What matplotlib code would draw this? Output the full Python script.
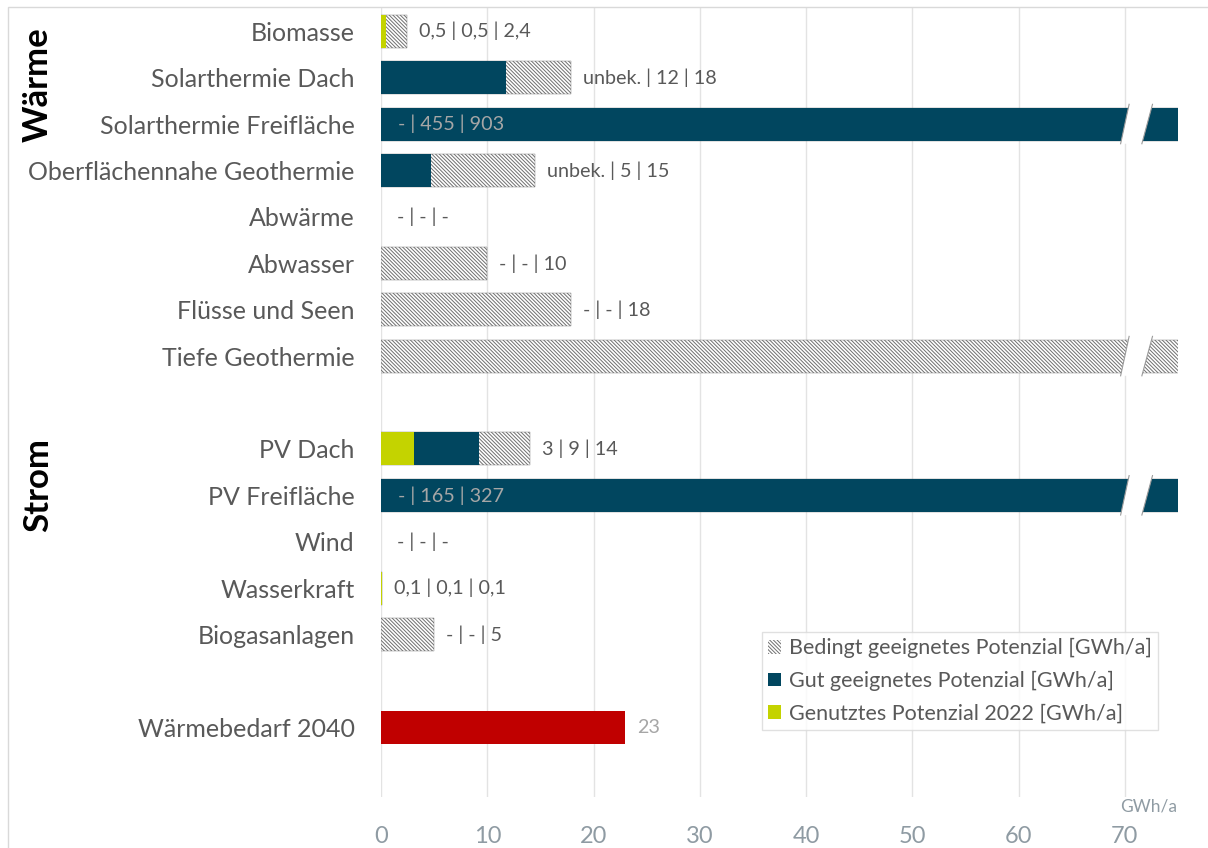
import numpy as np
import matplotlib
matplotlib.use("Agg")
import matplotlib.pyplot as plt
from matplotlib.patches import Patch, Polygon, Rectangle

plt.rcParams['font.family'] = ['Lato', 'DejaVu Sans']
plt.rcParams['hatch.linewidth'] = 0.7

# ---------------- data ----------------
waerme_cats = ["Biomasse", "Solarthermie Dach", "Solarthermie Freifläche",
               "Oberflächennahe Geothermie", "Abwärme", "Abwasser",
               "Flüsse und Seen", "Tiefe Geothermie"]
strom_cats = ["PV Dach", "PV Freifläche", "Wind", "Wasserkraft", "Biogasanlagen"]
demand_cat = "Wärmebedarf 2040"

# Waerme
w_genutzt = [0.5, np.nan, np.nan, np.nan, np.nan, np.nan, np.nan, np.nan]
w_gut = [0.5, 11.8, 455, 4.7, np.nan, np.nan, np.nan, np.nan]
w_bedingt = [2.4, 17.9, 903, 14.5, np.nan, 10, 17.9, 1000]
w_labels = ["0,5 | 0,5 | 2,4", "unbek. | 12 | 18", "- | 455 | 903",
            "unbek. | 5 | 15", "- | - | -", "- | - | 10", "- | - | 18", ""]

# Strom
s_genutzt = [3.1, np.nan, np.nan, 0.1, np.nan]
s_gut = [9.2, 165, np.nan, 0.1, np.nan]
s_bedingt = [14.0, 327, np.nan, 0.1, 5.0]
s_labels = ["3 | 9 | 14", "- | 165 | 327", "- | - | -", "0,1 | 0,1 | 0,1", "- | - | 5"]

demand_value = 23
demand_label = "23"

xticks = [0, 10, 20, 30, 40, 50, 60, 70]
x_max = 75
unit = "GWh/a"
legend_labels = ["Bedingt geeignetes Potenzial [GWh/a]",
                 "Gut geeignetes Potenzial [GWh/a]",
                 "Genutztes Potenzial 2022 [GWh/a]"]

# ---------------- style ----------------
NAVY = "#01465F"
YELLOW = "#C4D300"
RED = "#C00000"
HATCH_C = "#6F6F6F"
TXT = "#595959"
LIGHT = "#A6A6A6"
TICK_C = "#8F9BA3"
GRID_C = "#E3E3E3"
BAR_H = 0.71
HATCH = "\\" * 9

cats = waerme_cats + strom_cats + [demand_cat]
genutzt = w_genutzt + s_genutzt
gut = w_gut + s_gut
bedingt = w_bedingt + s_bedingt
labels = w_labels + s_labels

n_w = len(waerme_cats)
n_s = len(strom_cats)
y_w = np.arange(n_w)
y_s = np.arange(n_s) + n_w + 1
y_d = n_w + n_s + 2
y_all = np.concatenate([y_w, y_s])
y_ticks = list(y_all) + [y_d]

fig = plt.figure(figsize=(12.08, 8.48), dpi=100)
ax = fig.add_axes([381/1208, 1 - 797/848, 797/1208, 789/848])

ax.barh(y_all, bedingt, height=BAR_H, color="white", edgecolor=HATCH_C,
        linewidth=0.3, hatch=HATCH, zorder=2)
ax.barh(y_all, gut, height=BAR_H, color=NAVY, linewidth=0, zorder=3)
ax.barh(y_all, genutzt, height=BAR_H, color=YELLOW, linewidth=0, zorder=4)
ax.barh([y_d], [demand_value], height=BAR_H, color=RED, linewidth=0, zorder=3)

VFS = 14.2
# value labels
for yy, g1, g2, g3, lab in zip(y_all, genutzt, gut, bedingt, labels):
    vals = [v for v in (g1, g2, g3) if not np.isnan(v)]
    vmax = max(vals) if vals else 0.0
    if not lab:
        continue
    if vmax > x_max:
        ax.annotate(lab, (0, yy), xytext=(17, 0), textcoords="offset pixels",
                    ha="left", va="center", fontsize=VFS, color=LIGHT, zorder=6)
    else:
        off = 12 if vmax > 0 else 16
        ax.annotate(lab, (vmax, yy), xytext=(off, 0), textcoords="offset pixels",
                    ha="left", va="center", fontsize=VFS, color=TXT, zorder=6)
ax.annotate(demand_label, (demand_value, y_d), xytext=(12, 0), textcoords="offset pixels",
            ha="left", va="center", fontsize=VFS, color=LIGHT, zorder=6)

# axis break marks for bars beyond the axis
for yy, g2, g3 in zip(y_all, gut, bedingt):
    vals = [v for v in (g2, g3) if not np.isnan(v)]
    if vals and max(vals) > x_max:
        top = yy - BAR_H / 2 - 0.07
        bot = yy + BAR_H / 2 + 0.07
        poly = Polygon([(69.6, bot), (70.4, top), (72.6, top), (71.6, bot)],
                       closed=True, facecolor="white", edgecolor="none", zorder=5)
        ax.add_patch(poly)
        ax.plot([69.6, 70.4], [bot, top], color="#9A9A9A", lw=0.8, zorder=6)
        ax.plot([71.6, 72.6], [bot, top], color="#9A9A9A", lw=0.8, zorder=6)

ax.set_xlim(0, x_max)
ax.set_ylim(y_d + 1.5, -0.5)
ax.set_xticks(xticks)
ax.set_yticks(y_ticks)
ax.set_yticklabels(cats)
ax.tick_params(axis="y", length=0, pad=19, labelsize=18, labelcolor=TXT)
ax.tick_params(axis="x", length=0, pad=21, labelsize=17, labelcolor=TICK_C)
ax.grid(axis="x", color=GRID_C, linewidth=1.0, zorder=0)
ax.set_axisbelow(True)
for s in ax.spines.values():
    s.set_visible(False)

ax.text(1149/1208, 1 - 806/848, unit, transform=fig.transFigure, ha="center",
        va="center", fontsize=12.5, color=TICK_C)

# group titles
fig.text(38/1208, 1 - 85/848, "Wärme", rotation=90, ha="center", va="center",
         fontsize=25, fontweight="bold", color="black")
fig.text(38/1208, 1 - 485/848, "Strom", rotation=90, ha="center", va="center",
         fontsize=25, fontweight="bold", color="black")

# legend
handles = [Patch(facecolor="white", edgecolor=HATCH_C, linewidth=0, hatch=HATCH),
           Patch(facecolor=NAVY, linewidth=0),
           Patch(facecolor=YELLOW, linewidth=0)]
leg = ax.legend(handles, legend_labels, loc="lower left",
                bbox_to_anchor=((762 - 381) / 797, (797 - 730) / 789),
                borderaxespad=0, fontsize=15.5, frameon=True, fancybox=False,
                edgecolor="#D9D9D9", handlelength=0.6, handleheight=0.6,
                handletextpad=0.35, labelspacing=0.58, borderpad=0.3)
for t in leg.get_texts():
    t.set_color(TXT)
leg.get_frame().set_linewidth(1.0)

# outer frame
fig.patches.append(Rectangle((8/1208, -0.1), 1.2, 1.1 - 7/848, transform=fig.transFigure,
                             fill=False, edgecolor="#D9D9D9", linewidth=1.0))

fig.savefig("out.png", dpi=100)
